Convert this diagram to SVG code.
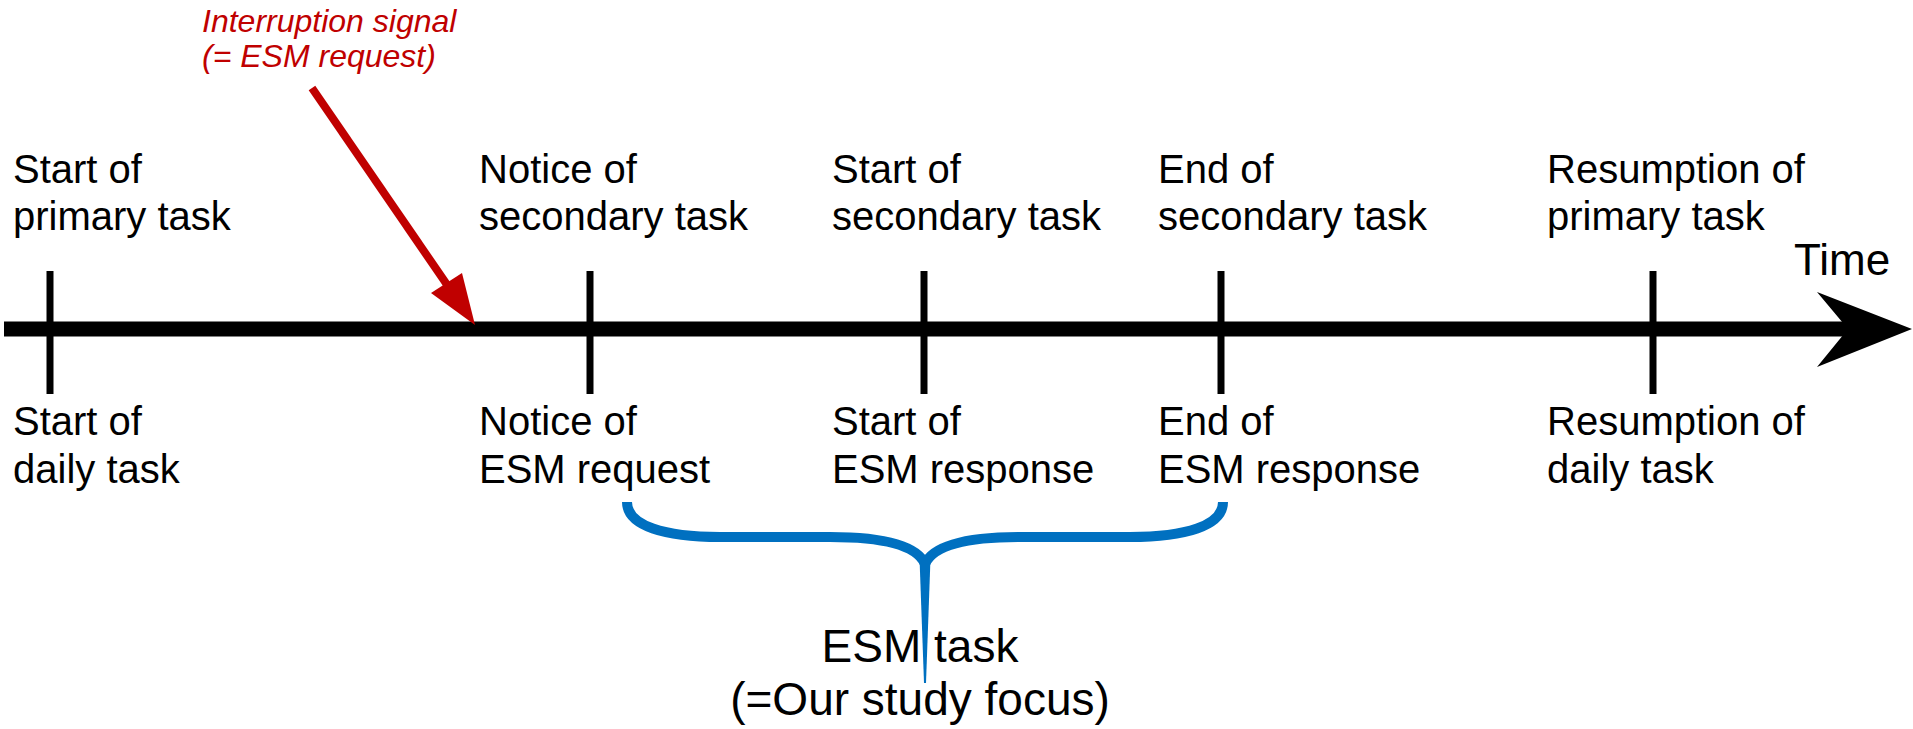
<svg xmlns="http://www.w3.org/2000/svg" width="1913" height="729" viewBox="0 0 1913 729">
  <style>
    .lbl { font-family: "Liberation Sans", Arial, sans-serif; font-size: 40px; fill: #000; }
    .note { font-family: "Liberation Sans", Arial, sans-serif; font-size: 32px; font-style: italic; fill: #c00000; }
    .focus { font-family: "Liberation Sans", Arial, sans-serif; font-size: 46px; fill: #000; text-anchor: middle; }
    .tick { stroke: #000; stroke-width: 7; fill: none; }
    .brace { stroke: #0070c0; stroke-width: 10; fill: none; }
  </style>

  <!-- time axis with tick marks -->
  <g id="connectors">
    <line x1="4" y1="329" x2="1855" y2="329" stroke="#000" stroke-width="15"/>
    <polygon points="1817,292 1912,329 1817,367 1848,329" fill="#000"/>
    <line class="tick" x1="50" y1="271" x2="50" y2="394"/>
    <line class="tick" x1="590" y1="271" x2="590" y2="394"/>
    <line class="tick" x1="924" y1="271" x2="924" y2="394"/>
    <line class="tick" x1="1221" y1="271" x2="1221" y2="394"/>
    <line class="tick" x1="1653" y1="271" x2="1653" y2="394"/>
    <!-- interruption arrow -->
    <line x1="312" y1="88" x2="452" y2="292" stroke="#c00000" stroke-width="8"/>
    <polygon points="431,293 475,325 462,273" fill="#c00000"/>
  </g>

  <text id="time-label" class="lbl" x="1794" y="275" style="font-size:44px">Time</text>

  <g id="interruption">
    <text class="note" x="202" y="32">Interruption signal</text>
    <text class="note" x="202" y="67">(= ESM request)</text>
  </g>

  <g id="start">
    <text class="lbl" x="13" y="183">Start of</text>
    <text class="lbl" x="13" y="230">primary task</text>
    <text class="lbl" x="13" y="435">Start of</text>
    <text class="lbl" x="13" y="483">daily task</text>
  </g>

  <g id="notice">
    <text class="lbl" x="479" y="183">Notice of</text>
    <text class="lbl" x="479" y="230">secondary task</text>
    <text class="lbl" x="479" y="435">Notice of</text>
    <text class="lbl" x="479" y="483">ESM request</text>
  </g>

  <g id="start-secondary">
    <text class="lbl" x="832" y="183">Start of</text>
    <text class="lbl" x="832" y="230">secondary task</text>
    <text class="lbl" x="832" y="435">Start of</text>
    <text class="lbl" x="832" y="483">ESM response</text>
  </g>

  <g id="end-secondary">
    <text class="lbl" x="1158" y="183">End of</text>
    <text class="lbl" x="1158" y="230">secondary task</text>
    <text class="lbl" x="1158" y="435">End of</text>
    <text class="lbl" x="1158" y="483">ESM response</text>
  </g>

  <g id="resumption">
    <text class="lbl" x="1547" y="183">Resumption of</text>
    <text class="lbl" x="1547" y="230">primary task</text>
    <text class="lbl" x="1547" y="435">Resumption of</text>
    <text class="lbl" x="1547" y="483">daily task</text>
  </g>

  <!-- curly brace grouping the ESM task span -->
  <g id="esm-task">
    <path class="brace" d="M 627 502 C 627 526, 665 537, 720 537 L 830 537 C 885 537, 917 546, 925 564"/>
    <path class="brace" d="M 1223 502 C 1223 526, 1185 537, 1130 537 L 1020 537 C 965 537, 933 546, 925 564"/>
    <polygon points="919.5,558 930.5,558 926,683 924,683" fill="#0070c0"/>
    <text class="focus" x="920" y="662">ESM task</text>
    <text class="focus" x="920" y="715">(=Our study focus)</text>
  </g>
</svg>
